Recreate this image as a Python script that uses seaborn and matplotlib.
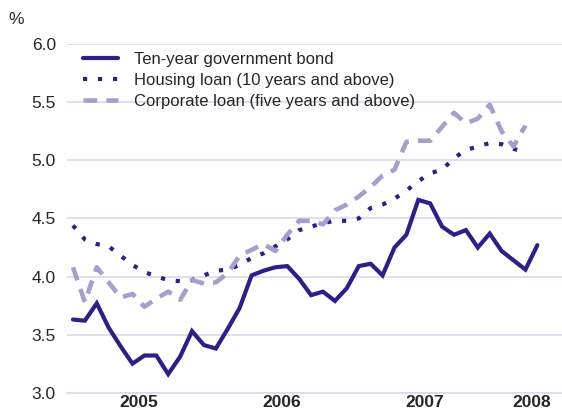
import pandas as pd
import matplotlib.pyplot as plt
import seaborn as sns

# 月度数据: 2005年1月 - 2008年4月
bond = [3.63, 3.62, 3.77, 3.56, 3.40, 3.25, 3.32, 3.32, 3.16, 3.31,
        3.53, 3.41, 3.38, 3.55, 3.73, 4.01, 4.05, 4.08, 4.09, 3.98,
        3.84, 3.87, 3.79, 3.90, 4.09, 4.11, 4.01, 4.25, 4.36, 4.66,
        4.63, 4.43, 4.36, 4.40, 4.25, 4.37, 4.22, 4.14, 4.06, 4.27]
housing = [4.44, 4.32, 4.28, 4.26, 4.18, 4.10, 4.04, 4.00, 3.97, 3.96,
           3.97, 4.01, 4.05, 4.06, 4.10, 4.16, 4.20, 4.26, 4.32, 4.40,
           4.43, 4.46, 4.48, 4.48, 4.50, 4.59, 4.62, 4.67, 4.74, 4.82,
           4.89, 4.92, 5.02, 5.09, 5.12, 5.15, 5.14, 5.10, 5.07]
corporate = [4.08, 3.78, 4.08, 3.95, 3.82, 3.85, 3.74, 3.81, 3.87, 3.80,
             3.97, 3.94, 3.95, 4.03, 4.18, 4.23, 4.28, 4.22, 4.36, 4.48,
             4.48, 4.45, 4.57, 4.62, 4.69, 4.77, 4.87, 4.92, 5.16, 5.17,
             5.17, 5.29, 5.41, 5.32, 5.36, 5.48, 5.25, 5.12, 5.30]

series_names = ['Ten-year government bond',
                'Housing loan (10 years and above)',
                'Corporate loan (five years and above)']
year_labels = ['2005', '2006', '2007', '2008']
year_pos = [5.5, 17.5, 29.5, 38.5]      # 标签放在年中 (2008年放在4月)
year_starts = [-0.5, 11.5, 23.5, 35.5]
quarters = [-0.5 + 3 * k for k in range(14)]
yticks = [3.0, 3.5, 4.0, 4.5, 5.0, 5.5, 6.0]

dark = '#2d1f86'
light = '#a99dcc'
grid = '#dcd8ec'

sns.set_theme(style='white')
plt.rcParams['font.family'] = ['Liberation Sans', 'DejaVu Sans']

fig = plt.figure(figsize=(5.62, 4.13), dpi=100)
ax = fig.add_axes([0.1192, 0.0492, 0.8808, 0.8435])

df_b = pd.DataFrame({'m': range(len(bond)), 'v': bond})
df_h = pd.DataFrame({'m': range(len(housing)), 'v': housing})
df_c = pd.DataFrame({'m': range(len(corporate)), 'v': corporate})

sns.lineplot(data=df_b, x='m', y='v', ax=ax, color=dark, lw=3.0,
             label=series_names[0], solid_joinstyle='miter')
sns.lineplot(data=df_h, x='m', y='v', ax=ax, color=dark, lw=3.0,
             linestyle=(0, (1, 2.6)), label=series_names[1])
sns.lineplot(data=df_c, x='m', y='v', ax=ax, color=light, lw=3.3,
             linestyle=(0, (3.0, 2.0)), label=series_names[2])

ax.set_xlim(-0.5, 41.07)
ax.set_ylim(3.0, 6.0)
ax.set_yticks(yticks, labels=[f'{t:.1f}' for t in yticks])
ax.yaxis.grid(True, color=grid, lw=1.2)
ax.set_axisbelow(True)
for s in ['top', 'right', 'left']:
    ax.spines[s].set_visible(False)
ax.spines['bottom'].set_color(grid)
ax.spines['bottom'].set_linewidth(1.2)

ax.set_xticks(year_starts, labels=[''] * len(year_starts))
minor_labels = [year_labels[year_pos.index(q)] if q in year_pos else '' for q in quarters]
ax.set_xticks(quarters, labels=minor_labels, minor=True)
ax.tick_params(axis='x', which='major', direction='in', length=8, width=1,
               color='#333333')
ax.tick_params(axis='x', which='minor', direction='in', length=5, width=0.8,
               color='#555555', pad=2, labelsize=12.5)
for t in ax.get_xticklabels(minor=True):
    t.set_fontweight('bold')
ax.tick_params(axis='y', length=0, pad=8, labelsize=12.5)
ax.set_xlabel('')
ax.set_ylabel('')

fig.text(8 / 562, 1 - 20 / 413, '%', fontsize=12.5, va='center', ha='left')

ax.legend(loc='upper left', bbox_to_anchor=(0.032, 0.977), frameon=False,
          fontsize=12, handlelength=2.1, handletextpad=1.0,
          labelspacing=0.35, borderpad=0, borderaxespad=0)

fig.savefig('out.png', dpi=100)
